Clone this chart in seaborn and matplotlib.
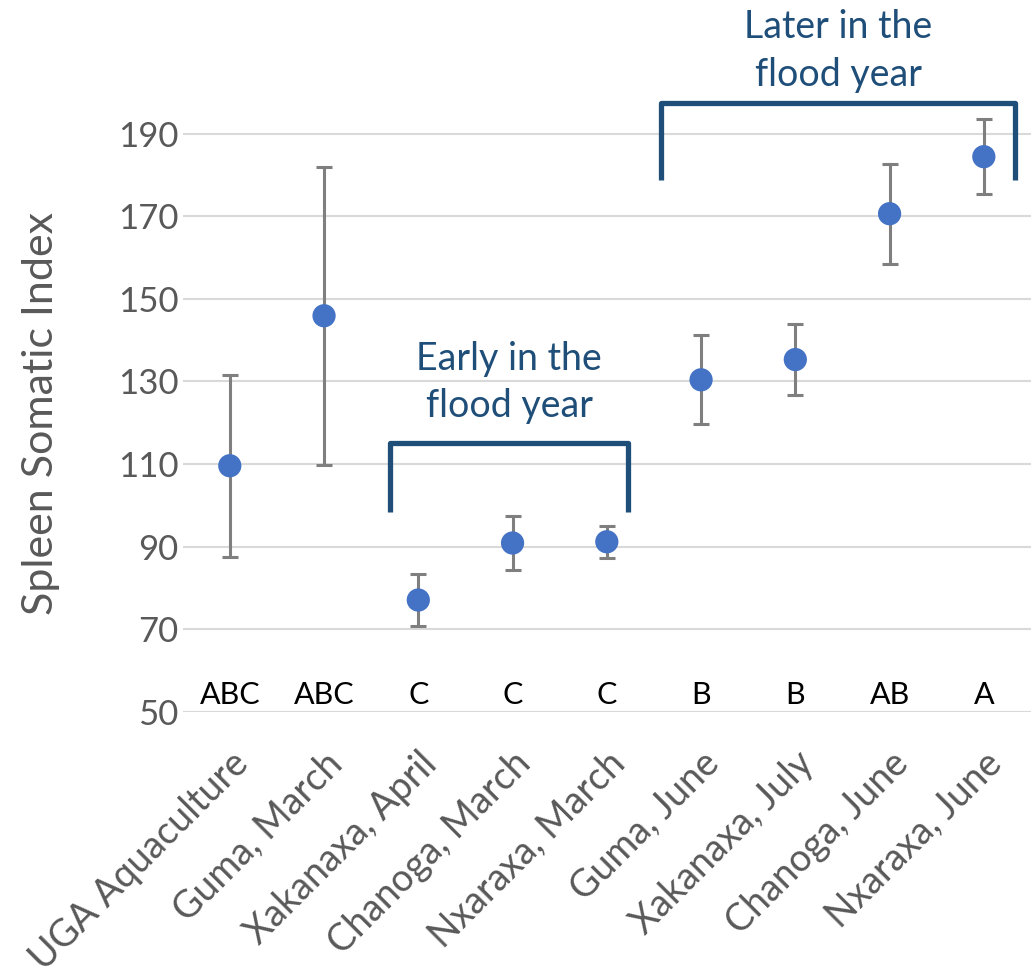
import seaborn as sns
import pandas as pd
import matplotlib.pyplot as plt

sites = ["UGA Aquaculture", "Guma, March", "Xakanaxa, April", "Chanoga, March",
         "Nxaraxa, March", "Guma, June", "Xakanaxa, July", "Chanoga, June",
         "Nxaraxa, June"]
ssi = [109.6, 145.9, 77.1, 90.9, 91.2, 130.4, 135.3, 170.6, 184.4]
err = [22.0, 36.0, 6.2, 6.6, 3.9, 10.8, 8.5, 12.1, 9.1]
groups = ["ABC", "ABC", "C", "C", "C", "B", "B", "AB", "A"]

df = pd.DataFrame({"site": sites, "ssi": ssi, "err": err})

sns.set_style("white")
plt.rcParams["font.family"] = ["Lato", "DejaVu Sans"]
grey = "#595959"
navy = "#1f4e79"

fig = plt.figure(figsize=(10.32, 9.76), dpi=100)
ax = fig.add_axes([0.177, 0.2705, 0.822, 0.635])

ax.errorbar(range(len(sites)), df["ssi"], yerr=df["err"], fmt="none",
            ecolor="#7f7f7f", elinewidth=2.2, capsize=6, capthick=2.2,
            zorder=2, clip_on=False)
sns.scatterplot(data=df, x="site", y="ssi", ax=ax, color="#4472c4", s=280,
                edgecolor="none", zorder=3, clip_on=False)

ax.set_ylim(50, 200)
ax.set_xlim(-0.5, len(sites) - 0.5)
ax.set_yticks(range(50, 191, 20))
ax.grid(axis="y", color="#d9d9d9", lw=1.5)
ax.set_axisbelow(True)
sns.despine(ax=ax, left=True, bottom=True)
ax.tick_params(length=0, labelsize=25, colors=grey)
ax.tick_params(axis="y", pad=3)
ax.tick_params(axis="x", pad=24)
ax.set_xticks(range(len(sites)))
ax.set_xticklabels(sites, rotation=45, ha="right", rotation_mode="anchor",
                   fontsize=27, color=grey)
ax.set_xlabel("")
ax.set_ylabel("Spleen Somatic Index", fontsize=31, color=grey)
ax.yaxis.set_label_coords(-0.145, 0.481)

# significance letters
for i, g in enumerate(groups):
    ax.text(i, 54.2, g, ha="center", va="center", fontsize=22, color="black")

# brackets
def bracket(x0, x1, y0, y1, label, ty):
    ax.plot([x0, x0, x1, x1], [y0, y1, y1, y0], color=navy, lw=3.8,
            solid_joinstyle="round", solid_capstyle="butt", clip_on=False)
    ax.text((x0 + x1) / 2, ty, label, ha="center", va="center", fontsize=27,
            color=navy, linespacing=1.4)

bracket(1.70, 4.23, 98.4, 115.1, "Early in the\nflood year", 129.7)
bracket(4.58, 8.33, 178.8, 197.5, "Later in the\nflood year", 210.0)

fig.savefig("out.png", dpi=100)
